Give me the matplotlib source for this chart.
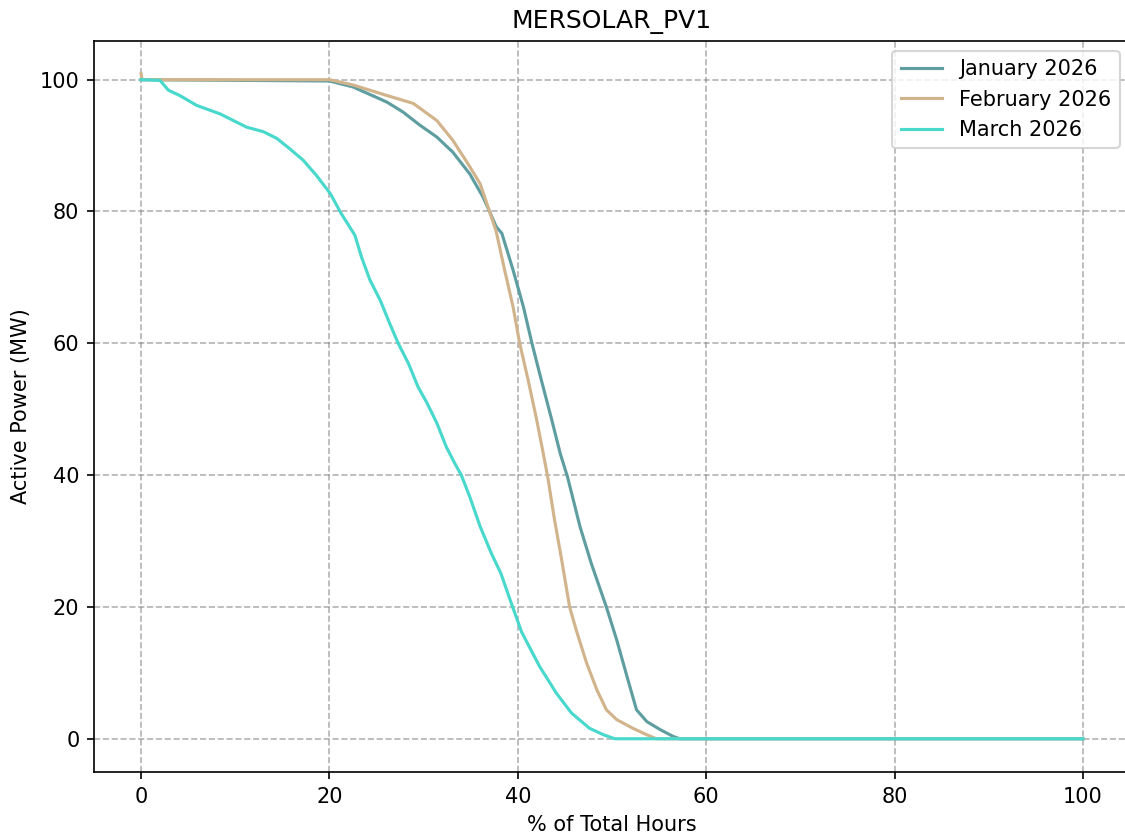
import matplotlib
matplotlib.use("Agg")
import matplotlib.pyplot as plt

# Duration curves (x = % of total hours, y = MW)
jan_x = [0, 20, 22.5, 26.1, 27.8, 29.6, 31.4, 33.1, 34.9, 36.3, 37.0, 37.7,
         38.3, 39.5, 40.6, 41.5, 42.5, 43.6, 44.5, 45.3, 46.6, 47.8, 49.4,
         50.5, 51.7, 52.6, 53.7, 55.1, 56.5, 57.2, 100]
jan_y = [100, 99.8, 98.9, 96.6, 95.1, 93.1, 91.3, 89.0, 85.7, 82.2, 80.0, 77.7,
         76.7, 71.1, 65.5, 60.0, 54.4, 48.4, 43.3, 39.6, 32.2, 26.6, 20.0,
         15.0, 8.9, 4.4, 2.6, 1.4, 0.35, 0, 0]

feb_x = [0, 0.1, 20, 22.5, 26.1, 28.9, 31.4, 33.1, 34.9, 36.0, 37.0, 37.7,
         38.6, 39.5, 40.2, 41.1, 42.0, 42.7, 43.2, 43.9, 44.6, 45.5, 46.2,
         47.3, 48.4, 49.4, 50.5, 52.2, 53.7, 54.7, 100]
feb_y = [100.9, 100, 100, 99.2, 97.6, 96.4, 93.8, 90.8, 86.8, 84.2, 80.0, 77.0,
         71.1, 65.5, 60.0, 54.4, 48.4, 43.3, 39.5, 33.2, 27.6, 20.0, 16.5,
         11.5, 7.4, 4.4, 2.9, 1.6, 0.6, 0, 0]

mar_x = [0, 2.0, 2.9, 4.1, 5.9, 8.4, 9.8, 11.2, 13.0, 14.4, 15.8, 17.2, 18.6,
         20.1, 21.2, 22.7, 23.4, 24.3, 25.4, 26.4, 27.3, 28.4, 29.4, 30.3,
         31.4, 32.4, 33.3, 34.0, 34.9, 36.0, 37.2, 38.2, 39.3, 40.4, 42.3,
         44.1, 45.7, 47.6, 49.1, 50.3, 100]
mar_y = [100, 99.9, 98.4, 97.6, 96.1, 94.8, 93.8, 92.8, 92.1, 91.1, 89.5, 87.8,
         85.5, 82.7, 79.8, 76.4, 73.1, 69.6, 66.5, 63.0, 60.0, 56.9, 53.4, 51.1,
         47.9, 44.3, 41.8, 40.0, 36.7, 32.2, 28.1, 25.1, 20.6, 16.2, 11.0,
         6.9, 3.9, 1.6, 0.6, 0, 0]

SERIES = [
    ("January 2026", jan_x, jan_y, "#5F9EA0"),
    ("February 2026", feb_x, feb_y, "#D2B48C"),
    ("March 2026", mar_x, mar_y, "#48D8CC"),
]

fig = plt.figure(figsize=(7.5, 835 / 150), dpi=150)
ax = fig.add_axes([94 / 1125, 63 / 835, 1036 / 1125, 731.5 / 835])

for label, xs, ys, color in SERIES:
    ax.plot(xs, ys, color=color, lw=1.5, label=label)

ax.set_title("MERSOLAR_PV1")
ax.set_xlabel("% of Total Hours")
ax.set_ylabel("Active Power (MW)")
ax.grid(True, linestyle="--", color="gray", alpha=0.6)
ax.legend(loc="upper right")

fig.savefig("out.png", dpi=150)
